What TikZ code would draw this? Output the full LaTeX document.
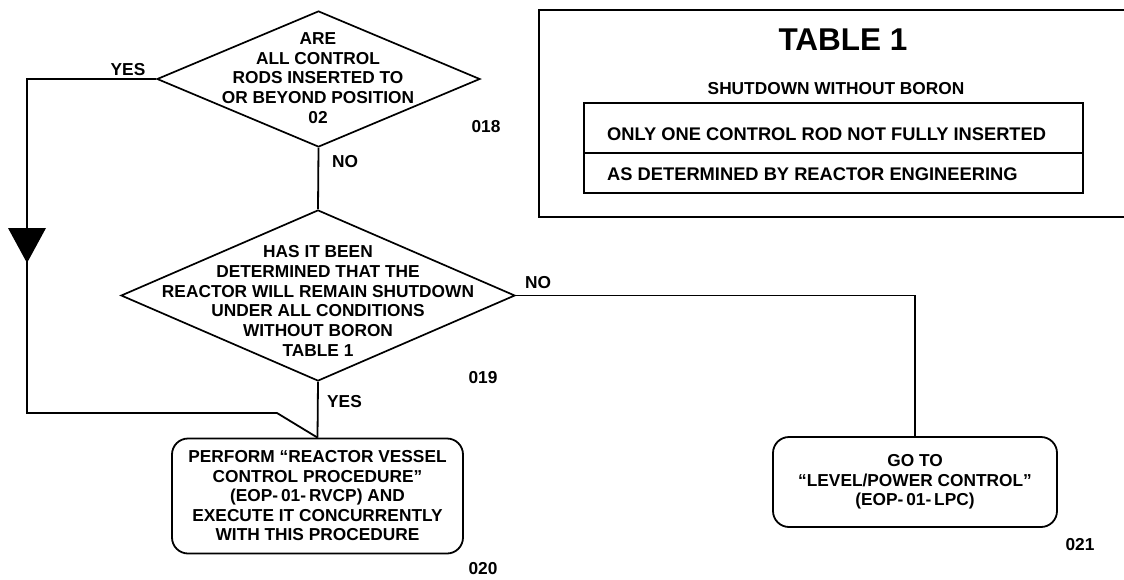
\documentclass[tikz,border=0pt]{standalone}
\usepackage{fontspec}
\setmainfont{Liberation Sans}
\usetikzlibrary{shapes.geometric}
\begin{document}
\begin{tikzpicture}[x=1pt,y=-1pt,
  txt/.style={font=\bfseries\fontsize{17.3}{19.7}\selectfont, align=center, inner sep=0},
  lbl/.style={font=\bfseries\fontsize{17.3}{20}\selectfont, inner sep=0},
  rowtxt/.style={font=\bfseries\fontsize{18.3}{20}\selectfont, inner sep=0, anchor=west},
  dia/.style={draw, line width=1.7pt, shape=diamond, inner sep=0},
  proc/.style={draw, line width=1.8pt, rounded corners=16pt, inner sep=0, align=center,
    font=\bfseries\fontsize{17.3}{19.5}\selectfont},
  ln/.style={line width=1.8pt},
  frame/.style={line width=2.2pt}]
\useasboundingbox (0,0) rectangle (1124,579);

% decisions
\node[dia, minimum width=323pt, minimum height=136pt] (d1) at (318.5,79) {};
\node[txt] (d1t) at (318,78) {ARE\\ALL CONTROL\\RODS INSERTED TO\\OR BEYOND POSITION\\02};
\node[dia, minimum width=394pt, minimum height=171pt] (d2) at (318,295.5) {};
\node[txt] (d2t) at (318,301) {HAS IT BEEN\\DETERMINED THAT THE\\REACTOR WILL REMAIN SHUTDOWN\\UNDER ALL CONDITIONS\\WITHOUT BORON\\TABLE 1};

% actions
\node[proc, minimum width=291pt, minimum height=115pt] (b1) at (317.5,496) {PERFORM ``REACTOR VESSEL\\CONTROL PROCEDURE''\\(EOP-\,01-\,RVCP) AND\\EXECUTE IT CONCURRENTLY\\WITH THIS PROCEDURE};
\node[proc, minimum width=284pt, minimum height=90pt] (b2) at (915,482) {GO TO\\``LEVEL/POWER CONTROL''\\(EOP-\,01-\,LPC)};

% step numbers
\node[lbl] (n18) at (486,127) {018};
\node[lbl] (n19) at (483,378) {019};
\node[lbl] (n20) at (483,569) {020};
\node[lbl] (n21) at (1080,545) {021};

% connectors
\coordinate (lp) at (27,413);
\coordinate (lq) at (277,413);
\coordinate (ah) at (27,263);
\draw[ln] (d1.west) -| (lp) -- (lq) -- (b1.north);
\fill (ah) -- ++(-19,-35) -- ++(38,0) -- cycle;
\node[lbl] (yes1) at (128,70) {YES};
\draw[ln] (d1.south) -- (d2.north);
\node[lbl, anchor=west] (no1) at (332,162) {NO};
\draw[ln] (d2.south) -- (b1.north);
\node[lbl, anchor=west] (yes2) at (327,402) {YES};
\draw[ln] (d2.east) -| (b2.north);
\node[lbl, anchor=west] (no2) at (525,283) {NO};

% table 1
\draw[frame] (1124,217) -- (539,217) -- (539,10) -- (1124,10);
\node[font=\bfseries\fontsize{31.5}{34}\selectfont, inner sep=0] (tt) at (843,40) {TABLE 1};
\node[lbl] (ts) at (836,89) {SHUTDOWN WITHOUT BORON};
\node[draw, frame, minimum width=499pt, minimum height=50pt, inner sep=0] (r1) at (833.5,128) {};
\node[draw, frame, minimum width=499pt, minimum height=40pt, inner sep=0] (r2) at (833.5,173) {};
\node[rowtxt] (r1t) at (607,134) {ONLY ONE CONTROL ROD NOT FULLY INSERTED};
\node[rowtxt] (r2t) at (607,174) {AS DETERMINED BY REACTOR ENGINEERING};
\end{tikzpicture}
\end{document}
